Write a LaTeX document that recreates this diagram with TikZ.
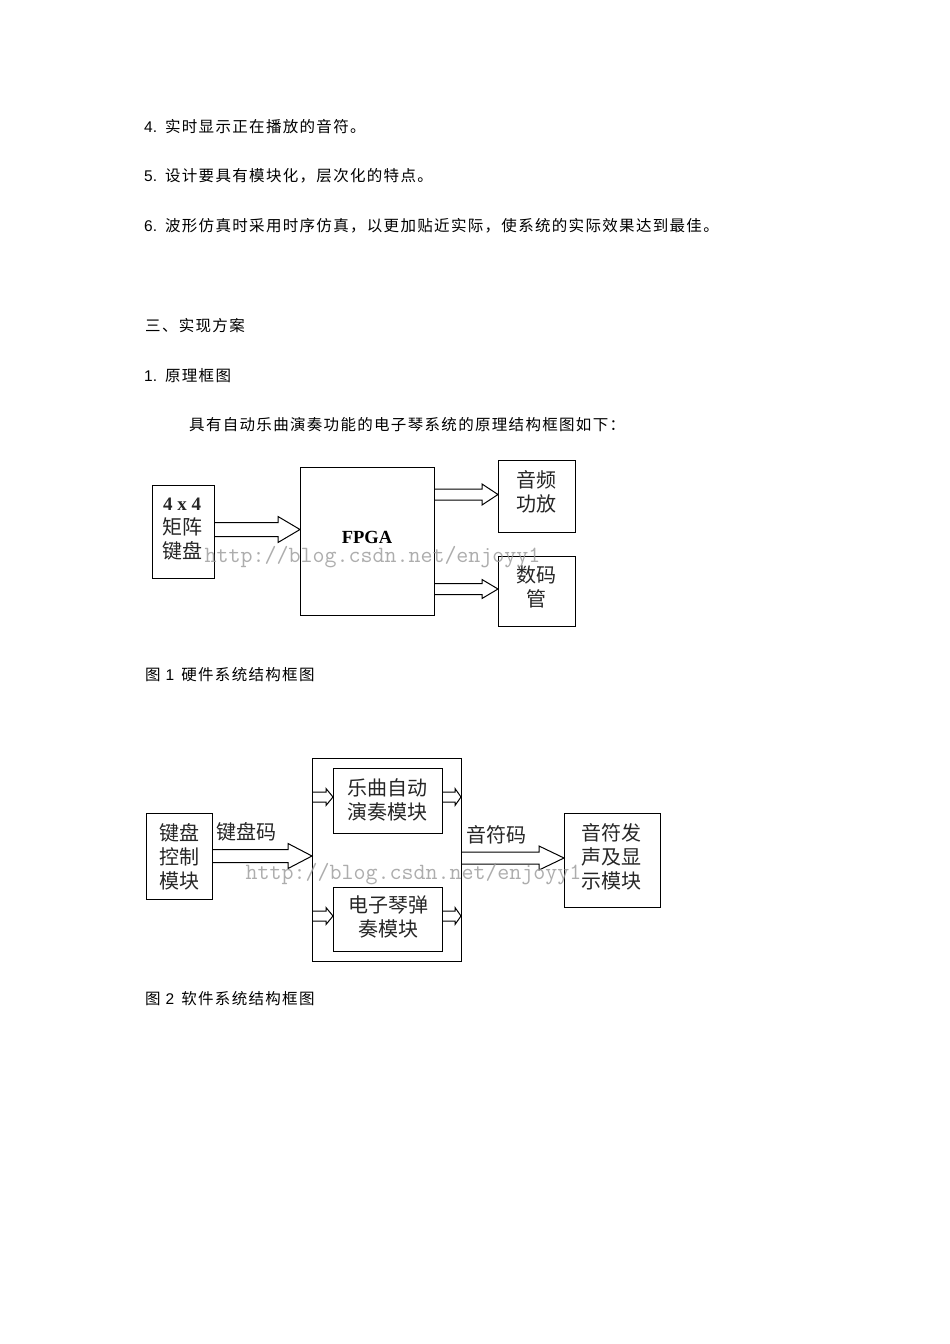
\documentclass[tikz,border=0pt]{standalone}
\usepackage{fontspec}
\setmainfont{Liberation Sans}
\newfontfamily\cjk[LetterSpace=8.5]{Noto Sans CJK SC}
\newfontfamily\cjkd{Noto Sans CJK SC}
\newfontfamily\fpgafont{Liberation Serif}
\usetikzlibrary{calc}
\newcommand{\fatarrow}[6]{%
  \draw[fatline] let \p1=(#1 |- 0,#3), \p2=(#2 |- 0,#3) in
    (\x1,\y1+#4pt) -- (\x2-#6pt,\y2+#4pt) -- (\x2-#6pt,\y2+#5pt) -- (\x2,\y2)
    -- (\x2-#6pt,\y2-#5pt) -- (\x2-#6pt,\y2-#4pt) -- (\x1,\y1-#4pt);}
\begin{document}
\begin{tikzpicture}[x=1pt,y=-1pt,
  boxn/.style={draw=black,line width=1pt,inner sep=0pt,outer sep=0pt},
  lab/.style={font=\fontsize{20}{24}\selectfont\cjkd,align=center,inner sep=0pt,text=black!85},
  para/.style={anchor=west,inner sep=0pt,font=\fontsize{15.5}{18}\selectfont,text=black},
  fatline/.style={draw=black,line width=1pt,line join=miter},
  wmark/.style={font=\fontsize{23.3}{24}\selectfont\ttfamily,text=black!40,inner sep=0pt,opacity=.8}]
\useasboundingbox (0,0) rectangle (950,1344);
\fill[white] (0,0) rectangle (950,1344);
% page text
\node[para] (t1) at (144,126.5) {4.\hspace{8pt}{\cjk 实时显示正在播放的音符。}};
\node[para] (t2) at (144,176) {5.\hspace{8pt}{\cjk 设计要具有模块化，层次化的特点。}};
\node[para] (t3) at (144,226) {6.\hspace{8pt}{\cjk 波形仿真时采用时序仿真，以更加贴近实际，使系统的实际效果达到最佳。}};
\node[para] (t4) at (145,325.5) {\cjk 三、实现方案};
\node[para] (t5) at (144,375.5) {1.\hspace{8pt}{\cjk 原理框图}};
\node[para] (t6) at (189,425) {\cjk 具有自动乐曲演奏功能的电子琴系统的原理结构框图如下：};
\node[para] (t7) at (145,674.5) {{\cjk 图}\hspace{5pt}1\hspace{7pt}{\cjk 硬件系统结构框图}};
\node[para] (t8) at (145,998.5) {{\cjk 图}\hspace{5pt}2\hspace{7pt}{\cjk 软件系统结构框图}};
% figure 1
\node[boxn,minimum width=62pt,minimum height=93pt] (kbd) at (183,531.5) {};
\node[boxn,minimum width=134pt,minimum height=148pt] (fpga) at (367,541) {};
\node[boxn,minimum width=77pt,minimum height=72pt] (audio) at (536.5,496) {};
\node[boxn,minimum width=77pt,minimum height=70pt] (seg) at (536.5,591) {};
\node[lab] (kbdt) at (182,529) {{\fontsize{19}{24}\selectfont\fpgafont\bfseries 4 x 4}\\矩阵\\键盘};
\node[inner sep=0pt,font=\fontsize{18.5}{20}\selectfont\fpgafont\bfseries] (fpgat) at (367,537) {FPGA};
\node[lab] (audiot) at (536,492) {音频\\功放};
\node[lab] (segt) at (536,587) {数码\\管};
\fatarrow{kbd.east}{fpga.west}{529.5}{7}{13}{22}
\fatarrow{fpga.east}{audio.west}{494.5}{5.5}{10.5}{16}
\fatarrow{fpga.east}{seg.west}{589}{5.5}{9.5}{16}
% figure 2
\node[boxn,minimum width=66pt,minimum height=86pt] (ctl) at (179,856) {};
\node[boxn,minimum width=149pt,minimum height=203pt] (outer) at (386.5,859.5) {};
\node[boxn,minimum width=109pt,minimum height=65pt] (auto) at (387.5,800.5) {};
\node[boxn,minimum width=109pt,minimum height=64pt] (play) at (387.5,919) {};
\node[boxn,minimum width=96pt,minimum height=94pt] (snd) at (612,860) {};
\node[lab] (ctlt) at (179,857) {键盘\\控制\\模块};
\node[lab] (autot) at (387,800) {乐曲自动\\演奏模块};
\node[lab] (playt) at (388,917) {电子琴弹\\奏模块};
\node[lab] (sndt) at (611,857) {音符发\\声及显\\示模块};
\node[lab] (code1) at (246,832) {键盘码};
\node[lab] (code2) at (496,835) {音符码};
\fatarrow{ctl.east}{outer.west}{856}{6.5}{12.5}{24}
\fatarrow{outer.east}{snd.west}{858}{6}{12}{25}
\fatarrow{outer.west}{auto.west}{797}{5}{8.5}{7}
\fatarrow{auto.east}{outer.east}{797}{5}{8.5}{6}
\fatarrow{outer.west}{play.west}{916}{5}{8.5}{7}
\fatarrow{play.east}{outer.east}{916}{5}{8.5}{6}
% watermarks
\node[wmark] (w1) at (372.5,557) {http://blog.csdn.net/enjoyy1};
\node[wmark] (w2) at (413.5,874) {http://blog.csdn.net/enjoyy1};
\end{tikzpicture}
\end{document}
